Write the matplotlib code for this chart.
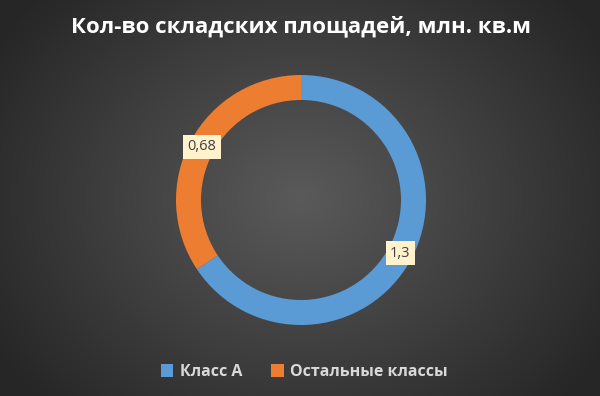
import numpy as np
import matplotlib
matplotlib.use("Agg")
import matplotlib.pyplot as plt

# data
categories = ["Класс А", "Остальные классы"]
values = [1.3, 0.68]
value_labels = ["1,3", "0,68"]
colors = ["#5b9bd5", "#ed7d31"]
title = "Кол-во складских площадей, млн. кв.м"

plt.rcParams["font.family"] = ["Open Sans", "DejaVu Sans"]

W, H = 600, 396
fig = plt.figure(figsize=(W / 100, H / 100), dpi=100)

# background radial gradient
bg = fig.add_axes([0, 0, 1, 1])
yy, xx = np.mgrid[0:H, 0:W]
r = np.sqrt(((xx - W / 2) / (W * 0.6)) ** 2 + ((yy - H / 2) / (H * 0.75)) ** 2)
r = np.clip(r, 0, 1)
c_in, c_out = np.array([0x5a, 0x5a, 0x5a]) / 255, np.array([0x26, 0x26, 0x26]) / 255
img = c_in[None, None, :] * (1 - r[..., None]) + c_out[None, None, :] * r[..., None]
bg.imshow(img, extent=[0, 1, 0, 1], aspect="auto")
bg.axis("off")

# donut
R = 125
cx, cy = 301, H - 200
ax = fig.add_axes([(cx - R) / W, (cy - R) / H, 2 * R / W, 2 * R / H])
wedges, _ = ax.pie(values, colors=colors, startangle=90, counterclock=False,
                   radius=1, wedgeprops=dict(width=0.2, edgecolor="none"))
ax.set_xlim(-1, 1)
ax.set_ylim(-1, 1)
ax.set_aspect("equal")
ax.axis("off")

for w, lab in zip(wedges, value_labels):
    ang = np.deg2rad((w.theta1 + w.theta2) / 2)
    ax.text(0.9 * np.cos(ang), 0.9 * np.sin(ang), lab, ha="center", va="center",
            fontsize=10.5, color="#404040",
            bbox=dict(boxstyle="square,pad=0.3", fc="#fff2cc", ec="none"))

fig.text(0.502, 1 - 27 / H, title, ha="center", va="center", fontsize=16,
         fontweight="bold", color="white")

handles = [plt.Rectangle((0, 0), 1, 1, fc=c, ec="none") for c in colors]
fig.legend(handles, categories, loc="center", bbox_to_anchor=(0.507, 1 - 372 / H),
           ncol=2, frameon=False, labelcolor="#d9d9d9",
           handlelength=0.8, handleheight=0.8, handletextpad=0.4, columnspacing=1.8,
           prop={"weight": "bold", "size": 11.5})

fig.savefig("out.png", dpi=100)
